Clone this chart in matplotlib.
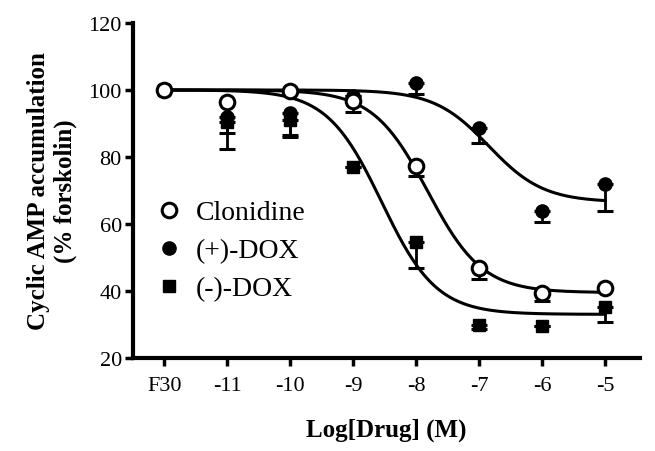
import numpy as np
import matplotlib
matplotlib.use("Agg")
import matplotlib.pyplot as plt

plt.rcParams["font.family"] = ["Liberation Serif", "DejaVu Serif"]

# x positions: F30 plotted at -12
x_pos = [-12, -11, -10, -9, -8, -7, -6, -5]
x_labels = ["F30", "-11", "-10", "-9", "-8", "-7", "-6", "-5"]

clon_y = [100, 96.5, 99.6, 96.8, 77.4, 46.8, 39.3, 40.8]
clon_err = [0, 0, 0, 3.5, 3.2, 3.2, 2.3, 0]

pdox_y = [100, 92.0, 93.0, 98.3, 102.1, 88.7, 64.0, 72.0]
pdox_err = [0, 5.0, 7.0, 0, 3.3, 4.5, 3.5, 8.0]

mdox_y = [100, 90.5, 91.0, 76.9, 54.7, 29.9, 29.4, 35.1]
mdox_err = [0, 8.0, 4.5, 0, 7.8, 1.4, 0, 4.4]

# four-parameter logistic fits: top, bottom, logEC50
clon_fit = (100, 39.5, -7.82)
pdox_fit = (100, 66.5, -6.85)
mdox_fit = (100, 33.0, -8.55)


def logistic(x, top, bottom, ec50):
    return bottom + (top - bottom) / (1 + 10 ** (x - ec50))


fig = plt.figure(figsize=(6.55, 4.52), dpi=100)
ax = fig.add_axes([0.203, 0.206, 0.774, 0.741])

xx = np.linspace(-12, -5, 300)
for fit in (clon_fit, pdox_fit, mdox_fit):
    ax.plot(xx, logistic(xx, *fit), color="black", lw=2.2, zorder=2)

ekw = dict(fmt="none", ecolor="black", elinewidth=2, capsize=6, capthick=2.2, zorder=3)
ax.errorbar(x_pos, mdox_y, yerr=[mdox_err, [0] * 8], **ekw)
ax.errorbar(x_pos, pdox_y, yerr=[pdox_err, [0] * 8], **ekw)
ax.errorbar(x_pos, clon_y, yerr=[clon_err, [0] * 8], **ekw)

ax.plot(x_pos, mdox_y, "s", color="black", ms=9, ls="none", zorder=4, label="(-)-DOX")
ax.plot(x_pos, pdox_y, "o", color="black", ms=9.5, ls="none", zorder=5, label="(+)-DOX")
ax.plot(x_pos, clon_y, "o", mfc="white", mec="black", mew=2.2, ms=10.5, ls="none",
        zorder=6, label="Clonidine")

handles, labels = ax.get_legend_handles_labels()
ax.legend(handles[::-1], labels[::-1], loc="center left", bbox_to_anchor=(0.0, 0.32),
          frameon=False, fontsize=20, handletextpad=0.45, labelspacing=0.45,
          handlelength=1.0, borderpad=0.3)

ax.set_xlim(-12.5, -4.45)
ax.set_ylim(20, 120)
ax.set_xticks(x_pos)
ax.set_xticklabels(x_labels)
ax.set_yticks(range(20, 121, 20))
ax.tick_params(direction="out", width=2.5, length=6, labelsize=16)
ax.tick_params(axis="x", pad=7)
ax.tick_params(axis="y", pad=2)
for s in ("top", "right"):
    ax.spines[s].set_visible(False)
for s in ("left", "bottom"):
    ax.spines[s].set_linewidth(3)

ax.set_xlabel("Log[Drug] (M)", fontsize=18, fontweight="bold", labelpad=16)
ax.set_ylabel("Cyclic AMP accumulation\n(% forskolin)", fontsize=18,
              fontweight="bold", labelpad=8)

fig.savefig("out.png", dpi=100)
